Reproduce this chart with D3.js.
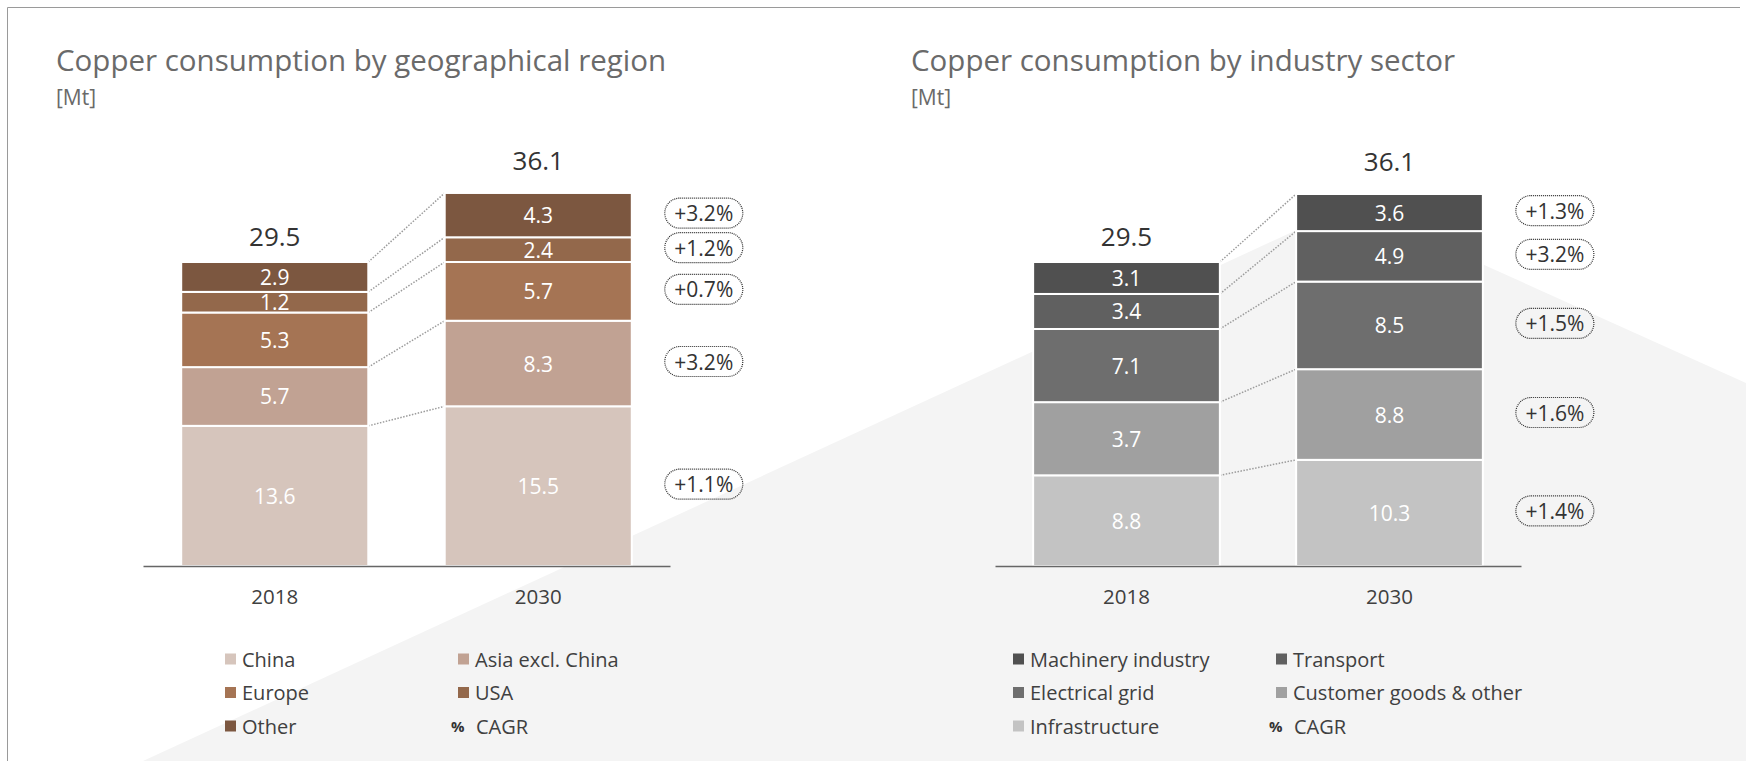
<!DOCTYPE html>
<html>
<head>
<meta charset="utf-8">
<script src="https://cdn.jsdelivr.net/npm/d3@7"></script>
<style>
  body { margin: 0; background: #fff; }
  svg { display: block; font-family: "Open Sans", sans-serif; }
</style>
</head>
<body>
<div id="chart"></div>
<script>
// data
var years = ["2018", "2030"];

// regions, bottom to top of the stack
var regionNames = ["China", "Asia excl. China", "Europe", "USA", "Other"];
var region2018 = [13.6, 5.7, 5.3, 2.0, 2.9];   // drawn heights
var region2030 = [15.5, 8.3, 5.7, 2.4, 4.3];
var region2018Labels = ["13.6", "5.7", "5.3", "1.2", "2.9"];  // printed labels
var region2030Labels = ["15.5", "8.3", "5.7", "2.4", "4.3"];
var regionTotals = ["29.5", "36.1"];
var regionCagr = ["+1.1%", "+3.2%", "+0.7%", "+1.2%", "+3.2%"];
var regionColors = ["#d6c5bc", "#c1a293", "#a57454", "#93684b", "#7c5740"];

// sectors, bottom to top of the stack
var sectorNames = ["Infrastructure", "Customer goods & other", "Electrical grid", "Transport", "Machinery industry"];
var sector2018 = [8.8, 7.1, 7.1, 3.4, 3.1];
var sector2030 = [10.3, 8.8, 8.5, 4.9, 3.6];
var sector2018Labels = ["8.8", "3.7", "7.1", "3.4", "3.1"];
var sector2030Labels = ["10.3", "8.8", "8.5", "4.9", "3.6"];
var sectorTotals = ["29.5", "36.1"];
var sectorCagr = ["+1.4%", "+1.6%", "+1.5%", "+3.2%", "+1.3%"];
var sectorColors = ["#c3c3c3", "#a0a0a0", "#6e6e6e", "#606060", "#505050"];

var svgWidth = 1746;
var svgHeight = 761;

var svg = d3.select("#chart").append("svg")
  .attr("width", svgWidth)
  .attr("height", svgHeight);

// light gray backdrop shape
svg.append("path")
  .attr("d", "M143,761 L1351,205 L1746,383 L1746,761 Z")
  .attr("fill", "#f4f4f4");

// frame
svg.append("path")
  .attr("d", "M7.5,761 L7.5,7.5 L1740,7.5")
  .attr("fill", "none")
  .attr("stroke", "#9a9a9a")
  .attr("stroke-width", 1);

var y = d3.scaleLinear().domain([0, 36.1]).range([566, 194]);
var totalGap = [16, 23];

function drawPanel(opts) {
  var g = svg.append("g");

  g.append("text")
    .attr("x", opts.titleX)
    .attr("y", 71)
    .attr("fill", "#6a6a6a")
    .style("font-size", "29.5px")
    .text(opts.title);
  g.append("text")
    .attr("x", opts.titleX)
    .attr("y", 105)
    .attr("fill", "#6a6a6a")
    .style("font-size", "21px")
    .text("[Mt]");

  var x = d3.scaleBand()
    .domain(years)
    .range(opts.axisRange)
    .paddingInner(0.29)
    .paddingOuter(0.145);
  var bw = x.bandwidth();

  var series = [opts.v2018, opts.v2030];
  var labels = [opts.l2018, opts.l2030];

  // build stacked rows
  var stacks = series.map(function(vals, j) {
    var cum = 0;
    return vals.map(function(v, i) {
      var row = {year: years[j], i: i, y0: cum, y1: cum + v, label: labels[j][i]};
      cum += v;
      return row;
    });
  });

  // dotted connectors between segment tops
  d3.range(opts.names.length).forEach(function(i) {
    g.append("line")
      .attr("x1", x("2018") + bw)
      .attr("y1", y(stacks[0][i].y1))
      .attr("x2", x("2030"))
      .attr("y2", y(stacks[1][i].y1))
      .attr("stroke", "#9c9c9c")
      .attr("stroke-width", 1.5)
      .attr("stroke-dasharray", "1.5,1.5");
  });

  stacks.forEach(function(rows) {
    var bars = g.selectAll(null)
      .data(rows)
      .enter();
    bars.append("rect")
      .attr("x", d => x(d.year))
      .attr("y", d => y(d.y1))
      .attr("width", bw)
      .attr("height", d => y(d.y0) - y(d.y1))
      .attr("fill", d => opts.colors[d.i])
      .attr("stroke", "#fff")
      .attr("stroke-width", 2);
    bars.append("text")
      .attr("x", d => x(d.year) + bw / 2)
      .attr("y", d => (y(d.y0) + y(d.y1)) / 2)
      .attr("text-anchor", "middle")
      .attr("dominant-baseline", "central")
      .attr("fill", "#fff")
      .style("font-size", "21px")
      .text(d => d.label);
  });

  // totals
  g.selectAll(null)
    .data(years)
    .enter()
    .append("text")
    .attr("x", d => x(d) + bw / 2)
    .attr("y", (d, j) => y(d3.sum(series[j])) - totalGap[j])
    .attr("text-anchor", "middle")
    .attr("fill", "#333")
    .style("font-size", "26px")
    .text((d, j) => opts.totals[j]);

  // axis
  var axis = g.append("g")
    .attr("transform", "translate(0,566)")
    .call(d3.axisBottom(x).tickSize(0).tickPadding(23));
  axis.select(".domain").attr("stroke", "#666").attr("stroke-width", 1.5);
  axis.selectAll("text")
    .attr("fill", "#404040")
    .style("font-size", "20.5px")
    .style("font-family", "'Open Sans', sans-serif");

  // CAGR pills
  var pillX = x("2030") + bw + 72;
  var pills = g.selectAll(null)
    .data(stacks[1])
    .enter()
    .append("g")
    .attr("transform", d => "translate(" + pillX + "," + ((y(d.y0) + y(d.y1)) / 2 - 2) + ")");
  pills.append("rect")
    .attr("x", -39)
    .attr("y", -15)
    .attr("width", 78)
    .attr("height", 30)
    .attr("rx", 15)
    .attr("fill", "none")
    .attr("stroke", "#2a2a2a")
    .attr("stroke-width", 1.2)
    .attr("stroke-dasharray", "1,1");
  pills.append("text")
    .attr("text-anchor", "middle")
    .attr("dominant-baseline", "central")
    .attr("fill", "#333")
    .style("font-size", "21px")
    .text(d => opts.cagr[d.i]);

  // legend, two columns, row-major
  var leg = g.selectAll(null)
    .data(opts.legendOrder)
    .enter()
    .append("g")
    .attr("transform", (d, k) => "translate(" + opts.legendX[k % 2] + "," + (659 + Math.floor(k / 2) * 33.5) + ")");
  leg.append("rect")
    .attr("x", 0)
    .attr("y", -5.5)
    .attr("width", 11)
    .attr("height", 11)
    .attr("fill", d => opts.colors[d]);
  leg.append("text")
    .attr("x", 17)
    .attr("dominant-baseline", "central")
    .attr("fill", "#404040")
    .style("font-size", "20px")
    .text(d => opts.names[d]);

  var cagrKey = g.append("g")
    .attr("transform", "translate(" + opts.legendX[1] + "," + (659 + 2 * 33.5) + ")");
  cagrKey.append("text")
    .attr("x", -7)
    .attr("dominant-baseline", "central")
    .attr("fill", "#333")
    .style("font-size", "15px")
    .style("font-weight", "bold")
    .text("%");
  cagrKey.append("text")
    .attr("x", 18)
    .attr("dominant-baseline", "central")
    .attr("fill", "#404040")
    .style("font-size", "20px")
    .text("CAGR");
}

drawPanel({
  title: "Copper consumption by geographical region",
  titleX: 56,
  axisRange: [143, 670],
  names: regionNames,
  v2018: region2018, v2030: region2030,
  l2018: region2018Labels, l2030: region2030Labels,
  totals: regionTotals,
  cagr: regionCagr,
  colors: regionColors,
  legendOrder: [0, 1, 2, 3, 4],
  legendX: [225, 458]
});

drawPanel({
  title: "Copper consumption by industry sector",
  titleX: 911,
  axisRange: [995, 1521],
  names: sectorNames,
  v2018: sector2018, v2030: sector2030,
  l2018: sector2018Labels, l2030: sector2030Labels,
  totals: sectorTotals,
  cagr: sectorCagr,
  colors: sectorColors,
  legendOrder: [4, 3, 2, 1, 0],
  legendX: [1013, 1276]
});
</script>
</body>
</html>
